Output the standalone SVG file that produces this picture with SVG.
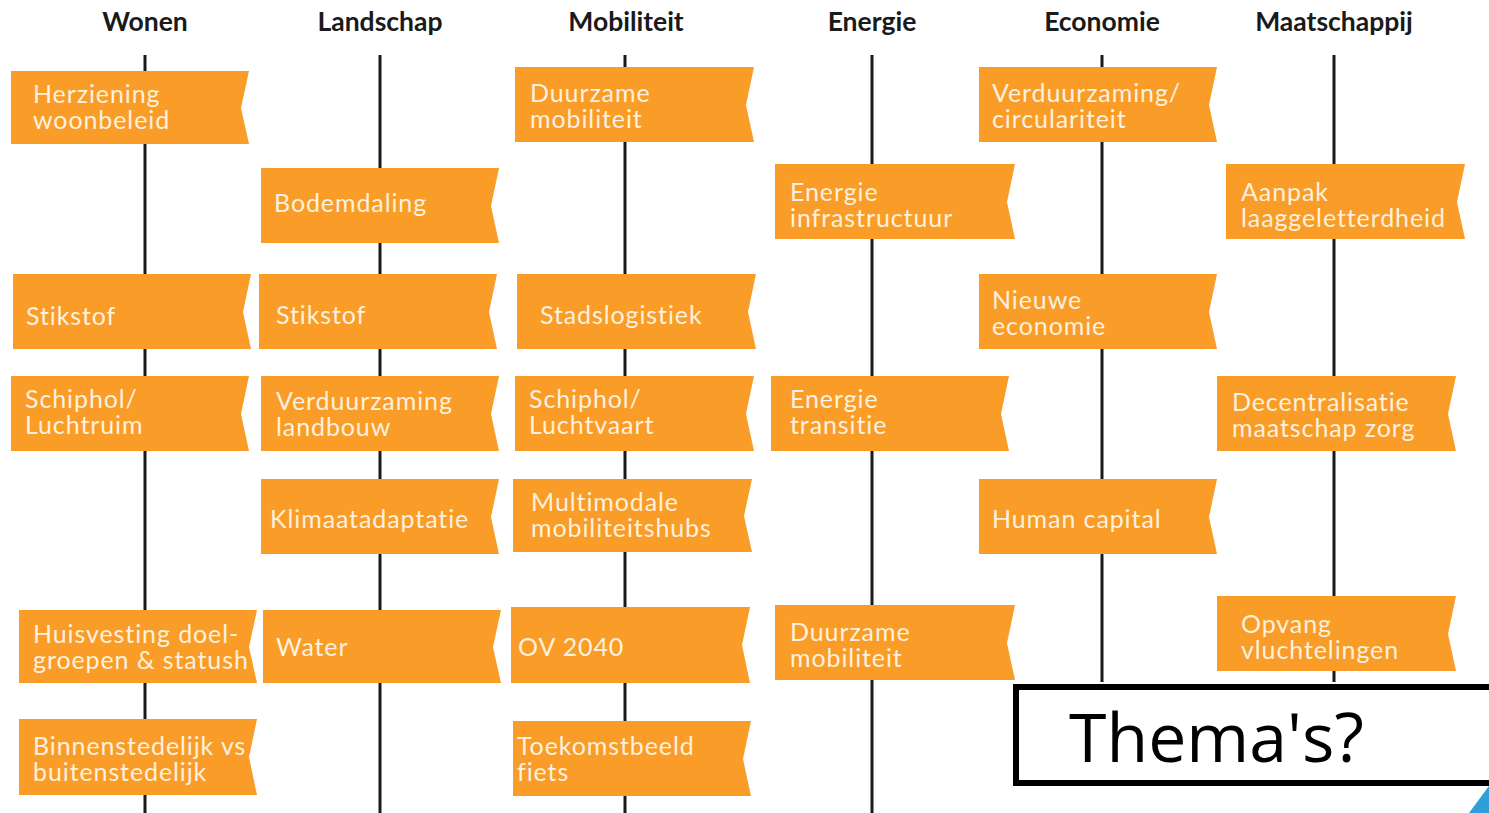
<svg xmlns="http://www.w3.org/2000/svg" width="1489" height="813" viewBox="0 0 1489 813">
<style>
.hd{font-family:Lato,"Liberation Sans",sans-serif;font-weight:bold;font-size:26.5px;fill:#1a1a1a;text-anchor:middle}
.bn{fill:#F99D28}
.t{font-family:Lato,"Liberation Sans",sans-serif;font-size:25px;letter-spacing:0.9px;fill:#FDF0DF}
.ln{stroke:#1a1a1a;stroke-width:3;fill:none}
</style>
<rect width="1489" height="813" fill="#fff"/>
<g id="headers">
<text class="hd" x="145" y="31">Wonen</text>
<text class="hd" x="380" y="31">Landschap</text>
<text class="hd" x="626" y="31">Mobiliteit</text>
<text class="hd" x="872" y="31">Energie</text>
<text class="hd" x="1102" y="31">Economie</text>
<text class="hd" x="1334" y="31">Maatschappij</text>
</g>
<g id="connectors">
<line class="ln" x1="145" y1="55" x2="145" y2="813"/>
<line class="ln" x1="380" y1="55" x2="380" y2="813"/>
<line class="ln" x1="625" y1="55" x2="625" y2="813"/>
<line class="ln" x1="872" y1="55" x2="872" y2="813"/>
<line class="ln" x1="1102" y1="55" x2="1102" y2="682"/>
<line class="ln" x1="1334" y1="55" x2="1334" y2="682"/>
</g>
<!-- Wonen -->
<g id="n-herziening"><path class="bn" d="M11 71H249L241 108L249 144H11Z"/><text class="t" x="33" y="103">Herziening</text><text class="t" x="33" y="129">woonbeleid</text></g>
<g id="n-stikstof-w"><path class="bn" d="M13 274H251L243 312L251 349H13Z"/><text class="t" x="26" y="325">Stikstof</text></g>
<g id="n-schiphol-w"><path class="bn" d="M11 376H249L241 414L249 451H11Z"/><text class="t" x="25" y="408">Schiphol/</text><text class="t" x="25" y="434">Luchtruim</text></g>
<g id="n-huisvesting"><path class="bn" d="M19 610H257L249 647L257 683H19Z"/><text class="t" x="33" y="643">Huisvesting doel-</text><text class="t" x="33" y="669">groepen &amp; statush</text></g>
<g id="n-binnenstedelijk"><path class="bn" d="M19 719H257L249 757L257 795H19Z"/><text class="t" x="33" y="755">Binnenstedelijk vs</text><text class="t" x="33" y="781">buitenstedelijk</text></g>
<!-- Landschap -->
<g id="n-bodemdaling"><path class="bn" d="M261 168H499L491 206L499 243H261Z"/><text class="t" x="274" y="212">Bodemdaling</text></g>
<g id="n-stikstof-l"><path class="bn" d="M259 274H497L489 312L497 349H259Z"/><text class="t" x="276" y="324">Stikstof</text></g>
<g id="n-verduurzaming-l"><path class="bn" d="M261 376H499L491 414L499 451H261Z"/><text class="t" x="276" y="410">Verduurzaming</text><text class="t" x="276" y="436">landbouw</text></g>
<g id="n-klimaat"><path class="bn" d="M261 479H499L491 517L499 554H261Z"/><text class="t" x="270" y="528">Klimaatadaptatie</text></g>
<g id="n-water"><path class="bn" d="M263 610H501L493 647L501 683H263Z"/><text class="t" x="276" y="656">Water</text></g>
<!-- Mobiliteit -->
<g id="n-duurzaam-m"><path class="bn" d="M515 67H754L746 105L754 142H515Z"/><text class="t" x="530" y="102">Duurzame</text><text class="t" x="530" y="128">mobiliteit</text></g>
<g id="n-stadslogistiek"><path class="bn" d="M517 274H756L748 312L756 349H517Z"/><text class="t" x="540" y="324">Stadslogistiek</text></g>
<g id="n-schiphol-m"><path class="bn" d="M515 376H754L746 414L754 451H515Z"/><text class="t" x="529" y="408">Schiphol/</text><text class="t" x="529" y="434">Luchtvaart</text></g>
<g id="n-multimodale"><path class="bn" d="M513 479H752L744 516L752 552H513Z"/><text class="t" x="531" y="511">Multimodale</text><text class="t" x="531" y="537">mobiliteitshubs</text></g>
<g id="n-ov"><path class="bn" d="M511 607H750L742 645L750 683H511Z"/><text class="t" x="518" y="656">OV 2040</text></g>
<g id="n-fiets"><path class="bn" d="M513 721H751L743 759L751 796H513Z"/><text class="t" x="517" y="755">Toekomstbeeld</text><text class="t" x="517" y="781">fiets</text></g>
<!-- Energie -->
<g id="n-energie-infra"><path class="bn" d="M775 164H1015L1007 202L1015 239H775Z"/><text class="t" x="790" y="201">Energie</text><text class="t" x="790" y="227">infrastructuur</text></g>
<g id="n-energie-transitie"><path class="bn" d="M771 376H1009L1001 414L1009 451H771Z"/><text class="t" x="790" y="408">Energie</text><text class="t" x="790" y="434">transitie</text></g>
<g id="n-duurzaam-e"><path class="bn" d="M775 605H1015L1007 643L1015 680H775Z"/><text class="t" x="790" y="641">Duurzame</text><text class="t" x="790" y="667">mobiliteit</text></g>
<!-- Economie -->
<g id="n-circulariteit"><path class="bn" d="M979 67H1217L1209 105L1217 142H979Z"/><text class="t" x="992" y="102">Verduurzaming/</text><text class="t" x="992" y="128">circulariteit</text></g>
<g id="n-nieuwe-economie"><path class="bn" d="M979 274H1217L1209 312L1217 349H979Z"/><text class="t" x="992" y="309">Nieuwe</text><text class="t" x="992" y="335">economie</text></g>
<g id="n-human-capital"><path class="bn" d="M979 479H1217L1209 517L1217 554H979Z"/><text class="t" x="992" y="528">Human capital</text></g>
<!-- Maatschappij -->
<g id="n-laaggeletterdheid"><path class="bn" d="M1226 164H1465L1457 202L1465 239H1226Z"/><text class="t" x="1241" y="201">Aanpak</text><text class="t" x="1241" y="227">laaggeletterdheid</text></g>
<g id="n-decentralisatie"><path class="bn" d="M1217 376H1456L1448 414L1456 451H1217Z"/><text class="t" x="1232" y="411">Decentralisatie</text><text class="t" x="1232" y="437">maatschap zorg</text></g>
<g id="n-opvang"><path class="bn" d="M1217 596H1456L1448 634L1456 671H1217Z"/><text class="t" x="1241" y="633">Opvang</text><text class="t" x="1241" y="659">vluchtelingen</text></g>
<!-- Thema's box -->
<g id="n-themas">
<rect x="1016" y="687" width="480" height="96" fill="#fff" stroke="#000" stroke-width="6"/>
<text x="1069" y="762" font-family="'Open Sans','Noto Sans',sans-serif" font-size="68" fill="#000">Thema's?</text>
</g>
<polygon points="1489,786 1469,813 1489,813" fill="#2E9FD8"/>
</svg>
